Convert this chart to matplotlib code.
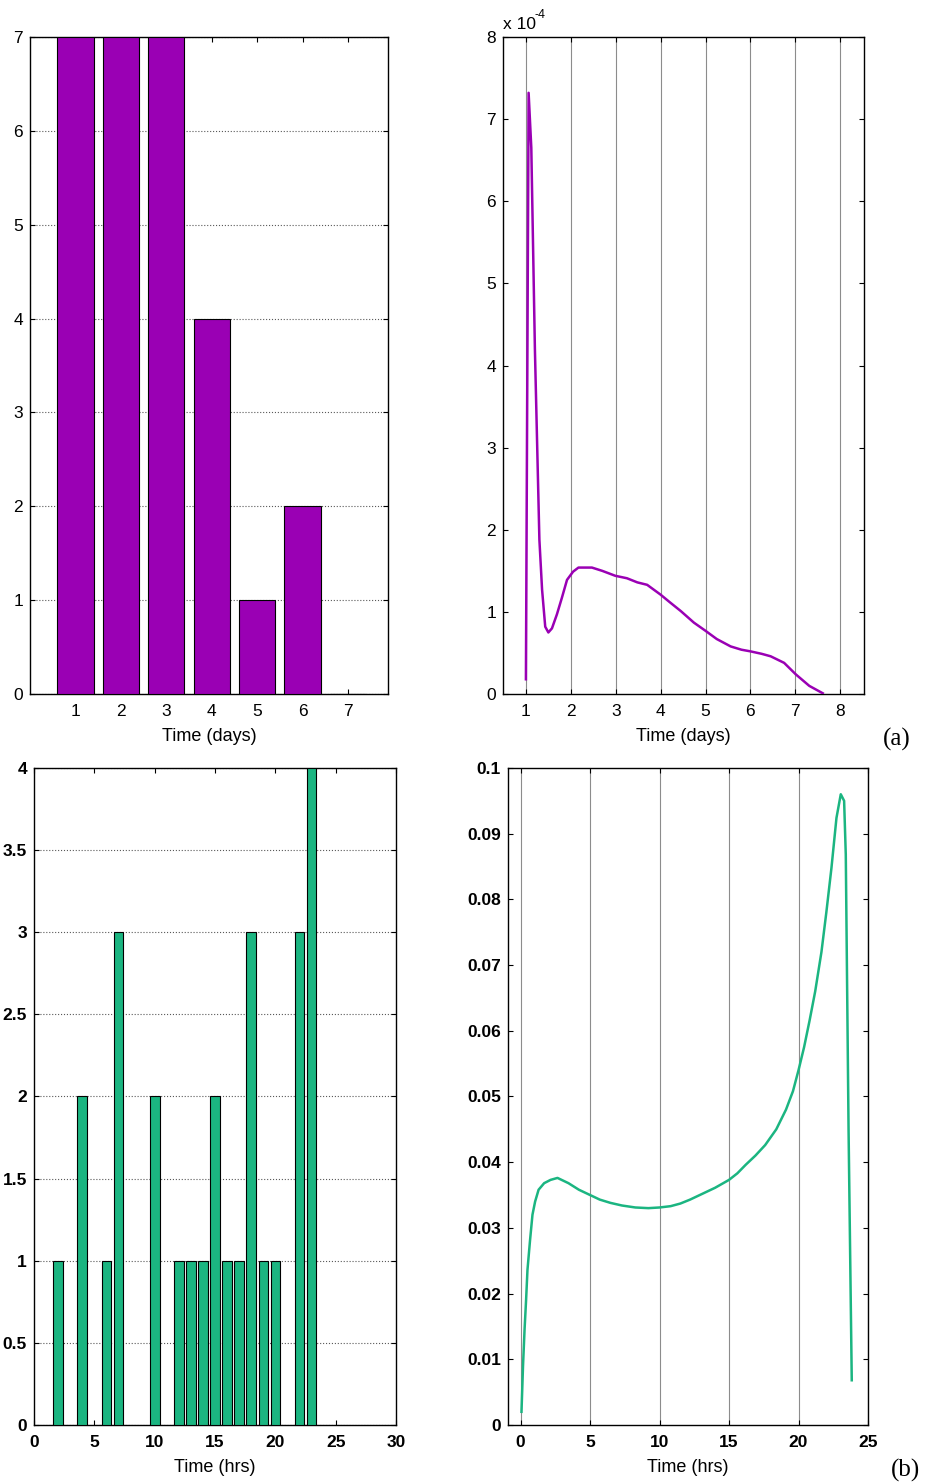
import matplotlib
matplotlib.use("Agg")
import matplotlib.pyplot as plt
from matplotlib.ticker import FormatStrFormatter, FuncFormatter

plt.rcParams['font.family'] = ['Liberation Sans', 'DejaVu Sans']

# ---------------- data ----------------
# (a) daily counts
days = [1, 2, 3, 4, 5, 6, 7]
day_counts = [7, 7, 7, 4, 1, 2, 0]

# (a) curve, values in units of 1e-4
curve_a_x = [1.00, 1.06, 1.12, 1.20, 1.30, 1.36, 1.43, 1.50, 1.58, 1.69, 1.80, 1.915, 2.05, 2.17,
             2.47, 2.70, 2.99, 3.25, 3.48, 3.70, 3.85, 4.00, 4.20, 4.45, 4.74, 5.00, 5.25, 5.56,
             5.80, 6.00, 6.25, 6.45, 6.75, 7.01, 7.31, 7.61]
curve_a_y = [0.18, 7.32, 6.65, 4.20, 1.88, 1.27, 0.82, 0.75, 0.80, 0.97, 1.17, 1.39, 1.49, 1.54,
             1.54, 1.50, 1.44, 1.41, 1.36, 1.33, 1.27, 1.21, 1.12, 1.01, 0.87, 0.77, 0.67, 0.58,
             0.54, 0.52, 0.49, 0.46, 0.38, 0.24, 0.10, 0.01]

# (b) hourly counts
hours = [2, 4, 6, 7, 10, 12, 13, 14, 15, 16, 17, 18, 19, 20, 22, 23]
hour_counts = [1, 2, 1, 3, 2, 1, 1, 1, 2, 1, 1, 3, 1, 1, 3, 4]

# (b) curve
curve_b_x = [0.07, 0.18, 0.29, 0.40, 0.50, 0.68, 0.86, 1.05, 1.30, 1.70, 2.16, 2.66, 3.45, 4.20,
             5.00, 5.70, 6.47, 7.30, 8.26, 9.20, 10.00, 10.80, 11.50, 12.20, 12.90, 14.00, 15.00,
             15.60, 16.20, 16.90, 17.60, 18.40, 19.10, 19.60, 20.00, 20.40, 20.80, 21.20, 21.65,
             22.00, 22.37, 22.73, 23.04, 23.28, 23.40, 23.60, 23.83]
curve_b_y = [0.002, 0.009, 0.0145, 0.019, 0.0236, 0.028, 0.032, 0.0340, 0.0358, 0.0368, 0.0373,
             0.0376, 0.0368, 0.0358, 0.0350, 0.0343, 0.0338, 0.0334, 0.0331, 0.0330, 0.0331,
             0.0333, 0.0337, 0.0343, 0.0350, 0.0361, 0.0373, 0.0383, 0.0396, 0.0410, 0.0426,
             0.0450, 0.0480, 0.0508, 0.0540, 0.0575, 0.0616, 0.0660, 0.0720, 0.0780, 0.0848,
             0.0924, 0.0960, 0.0950, 0.0868, 0.0450, 0.0068]

# ---------------- style ----------------
PURPLE = '#9a00b4'
GREEN = '#1bb581'
TICK_FS = 12.5
LABEL_FS = 13

fig = plt.figure(figsize=(9.25, 14.84), dpi=100)

def style_axes(ax, bold=False):
    ax.tick_params(direction='in', top=True, right=True, length=3.5, width=0.8,
                   labelsize=TICK_FS)
    ax.tick_params(axis='x', pad=7)
    ax.tick_params(axis='y', pad=5)
    for s in ax.spines.values():
        s.set_linewidth(1.0)
    if bold:
        for lab in ax.get_xticklabels() + ax.get_yticklabels():
            lab.set_fontweight('bold')

# Top-left
ax1 = fig.add_axes([0.0324, 0.5323, 0.3871, 0.4428])
ax1.bar(days, day_counts, width=0.8, color=PURPLE, edgecolor='black', linewidth=0.8, zorder=3)
ax1.set_xlim(0, 7.88)
ax1.set_ylim(0, 7)
ax1.set_xticks(days)
ax1.set_yticks(range(0, 8))
ax1.yaxis.grid(True, linestyle=':', color='0.35', linewidth=0.8)
ax1.set_axisbelow(True)
ax1.set_xlabel('Time (days)', fontsize=LABEL_FS, labelpad=6.5)
style_axes(ax1)

# Top-right
ax2 = fig.add_axes([0.5438, 0.5323, 0.3903, 0.4428])
ax2.plot(curve_a_x, curve_a_y, color=PURPLE, linewidth=1.8, zorder=3)
ax2.set_xlim(0.49, 8.53)
ax2.set_ylim(0, 8)
ax2.set_xticks(range(1, 9))
ax2.set_yticks(range(0, 9))
ax2.xaxis.grid(True, linestyle='-', color='0.55', linewidth=0.8)
ax2.set_xlabel('Time (days)', fontsize=LABEL_FS, labelpad=6.5)
style_axes(ax2)
ax2.text(0.0, 1.008, 'x 10', transform=ax2.transAxes, fontsize=TICK_FS,
         ha='left', va='bottom')
ax2.text(0.088, 1.024, '-4', transform=ax2.transAxes, fontsize=9,
         ha='left', va='bottom')
fig.text(0.969, 0.502, '(a)', fontsize=18, family='Liberation Serif', ha='center', va='center')

# Bottom-left
ax3 = fig.add_axes([0.0368, 0.0398, 0.3914, 0.4427])
ax3.bar(hours, hour_counts, width=0.8, color=GREEN, edgecolor='black', linewidth=0.8, zorder=3)
ax3.set_xlim(0, 30)
ax3.set_ylim(0, 4)
ax3.set_xticks(range(0, 31, 5))
ax3.set_yticks([i * 0.5 for i in range(9)])
ax3.yaxis.set_major_formatter(FormatStrFormatter('%g'))
ax3.yaxis.grid(True, linestyle=':', color='0.35', linewidth=0.8)
ax3.set_axisbelow(True)
ax3.set_xlabel('Time (hrs)', fontsize=LABEL_FS, labelpad=6.5)
style_axes(ax3, bold=True)

# Bottom-right
ax4 = fig.add_axes([0.5492, 0.0398, 0.3892, 0.4427])
ax4.plot(curve_b_x, curve_b_y, color=GREEN, linewidth=1.8, zorder=3)
ax4.set_xlim(-0.9, 25)
ax4.set_ylim(0, 0.1)
ax4.set_xticks(range(0, 26, 5))
ax4.set_yticks([i * 0.01 for i in range(11)])
ax4.yaxis.set_major_formatter(FuncFormatter(lambda v, p: '%g' % round(v, 3)))
ax4.xaxis.grid(True, linestyle='-', color='0.55', linewidth=0.8)
ax4.set_xlabel('Time (hrs)', fontsize=LABEL_FS, labelpad=6.5)
style_axes(ax4, bold=True)
fig.text(0.979, 0.009, '(b)', fontsize=18, family='Liberation Serif', ha='center', va='center')

fig.savefig('out.png', dpi=100)
